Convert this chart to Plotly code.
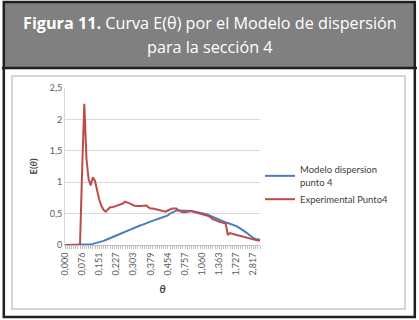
import plotly.graph_objects as go

# ---------------- data ----------------
theta = [
    "0,000", "0,009", "0,019", "0,028", "0,038", "0,047", "0,057", "0,066",
    "0,076", "0,085", "0,095", "0,104", "0,114", "0,123", "0,132", "0,142",
    "0,151", "0,161", "0,170", "0,180", "0,189", "0,199", "0,208", "0,218",
    "0,227", "0,237", "0,246", "0,255", "0,265", "0,274", "0,284", "0,293",
    "0,303", "0,312", "0,322", "0,331", "0,341", "0,350", "0,360", "0,369",
    "0,379", "0,388", "0,397", "0,407", "0,416", "0,426", "0,435", "0,445",
    "0,454", "0,492", "0,530", "0,568", "0,606", "0,643", "0,681", "0,719",
    "0,757", "0,795", "0,833", "0,871", "0,908", "0,946", "0,984", "1,022",
    "1,060", "1,098", "1,136", "1,174", "1,211", "1,249", "1,287", "1,325",
    "1,363", "1,408", "1,454", "1,499", "1,545", "1,590", "1,636", "1,681",
    "1,727", "1,863", "2,000", "2,136", "2,272", "2,408", "2,545", "2,681",
    "2,817", "2,953", "3,090", "3,226",
]

modelo = [
    0, 0, 0, 0, 0, 0, 0, 0,
    0, 0, 0.005, 0.008, 0.012, 0.018, 0.025, 0.033,
    0.042, 0.055, 0.065, 0.08, 0.093, 0.107, 0.12, 0.135,
    0.15, 0.163, 0.18, 0.195, 0.21, 0.225, 0.24, 0.26,
    0.275, 0.285, 0.30, 0.31, 0.32, 0.335, 0.35, 0.36,
    0.375, 0.385, 0.40, 0.41, 0.42, 0.43, 0.44, 0.45,
    0.47, 0.50, 0.52, 0.54, 0.55, 0.55, 0.55, 0.55,
    0.55, 0.55, 0.545, 0.54, 0.535, 0.53, 0.52, 0.51,
    0.505, 0.50, 0.49, 0.475, 0.465, 0.445, 0.43, 0.415,
    0.40, 0.38, 0.37, 0.36, 0.35, 0.34, 0.33, 0.31,
    0.30, 0.28, 0.26, 0.24, 0.22, 0.19, 0.16, 0.13,
    0.11, 0.095, 0.09, 0.085,
]

experimental = [
    0, 0, 0, 0, 0, 0, 0, 0,
    1.2, 2.25, 1.38, 1.05, 0.95, 1.08, 1.02, 0.85,
    0.72, 0.62, 0.56, 0.53, 0.57, 0.60, 0.60, 0.61,
    0.62, 0.64, 0.65, 0.66, 0.69, 0.68, 0.67, 0.65,
    0.63, 0.62, 0.62, 0.62, 0.62, 0.62, 0.63, 0.60,
    0.58, 0.58, 0.57, 0.56, 0.55, 0.54, 0.53, 0.53,
    0.55, 0.57, 0.58, 0.58, 0.58, 0.55, 0.53, 0.52,
    0.52, 0.53, 0.54, 0.54, 0.53, 0.52, 0.52, 0.51,
    0.50, 0.49, 0.47, 0.46, 0.44, 0.41, 0.40, 0.38,
    0.37, 0.36, 0.35, 0.34, 0.16, 0.19, 0.18, 0.17,
    0.16, 0.15, 0.14, 0.13, 0.13, 0.11, 0.10, 0.09,
    0.08, 0.07, 0.07, 0.07,
]

x_tick_labels = ["0,000", "0,076", "0,151", "0,227", "0,303", "0,379",
                 "0,454", "0,757", "1,060", "1,363", "1,727", "2,817"]
y_tick_vals = [0, 0.5, 1, 1.5, 2, 2.5]
y_tick_text = ["0", "0,5", "1", "1,5", "2", "2,5"]

series_names = ["Modelo dispersion<br>punto 4", "Experimental Punto4"]
series_colors = ["#4a7ebb", "#be4b48"]

# ---------------- layout geometry ----------------
W, H = 419, 320
ML, MR, MT, MB = 65, 159, 88, 75
PW, PH = W - ML - MR, H - MT - MB


def px(x):
    return (x - ML) / PW


def py(y):
    return (H - MB - y) / PH


fig = go.Figure()
for name, vals, col in zip(series_names, [modelo, experimental], series_colors):
    fig.add_trace(go.Scatter(x=theta, y=vals, mode="lines", name=name,
                             line=dict(color=col, width=2)))

tick_text = [t if t in x_tick_labels and i % 8 == 0 else "" for i, t in enumerate(theta)]

fig.update_layout(
    width=W, height=H,
    margin=dict(l=ML, r=MR, t=MT, b=MB),
    paper_bgcolor="white", plot_bgcolor="white",
    font=dict(family="Lato, sans-serif", color="#595959", size=9),
    showlegend=True,
    legend=dict(x=px(260), y=py(157), xanchor="left", yanchor="top",
                font=dict(size=9.5, color="#404040"),
                bgcolor="rgba(0,0,0,0)", tracegroupgap=3),
    xaxis=dict(type="category", categoryorder="array", categoryarray=theta,
               range=[0, len(theta) - 1],
               tickmode="array", tickvals=theta, ticktext=tick_text,
               tickangle=-90, ticks="outside", ticklen=3, tickcolor="#bfbfbf",
               showline=True, linecolor="#bfbfbf", linewidth=1,
               showgrid=False, zeroline=False,
               tickfont=dict(size=9, color="#595959"),
               title=dict(text="<b><i>θ</i></b>", font=dict(size=11, color="#404040"),
                          standoff=10)),
    yaxis=dict(range=[0, 2.5], tickmode="array", tickvals=y_tick_vals,
               ticktext=y_tick_text, ticks="", showgrid=True,
               gridcolor="#d9d9d9", gridwidth=1,
               showline=True, linecolor="#d9d9d9", linewidth=1, zeroline=False,
               tickfont=dict(size=9, color="#595959"),
               title=dict(text="<b>E(<i>θ</i>)</b>", font=dict(size=9.5, color="#404040"),
                          standoff=10)),
)

shapes = [
    # grey title band
    dict(type="rect", xref="paper", yref="paper", x0=px(4.5), x1=px(414.5),
         y0=py(67), y1=py(2.5), fillcolor="#808080", line=dict(width=0), layer="below"),
    # inner chart frame
    dict(type="rect", xref="paper", yref="paper", x0=px(12), x1=px(405),
         y0=py(309), y1=py(76), line=dict(color="#c8c8c8", width=1.5), layer="below"),
    # title bottom rule
    dict(type="line", xref="paper", yref="paper", x0=px(2), x1=px(417),
         y0=py(68), y1=py(68), line=dict(color="#231f20", width=2.5)),
    # outer border
    dict(type="rect", xref="paper", yref="paper", x0=px(3.8), x1=px(414.8),
         y0=py(317), y1=py(2), line=dict(color="#231f20", width=2.5)),
]
fig.update_layout(shapes=shapes)

fig.add_annotation(xref="paper", yref="paper", x=px(209.5), y=py(23),
                   xanchor="center", yanchor="middle", showarrow=False,
                   text="<b>Figura 11.</b> Curva E(θ) por el Modelo de dispersión",
                   font=dict(family="Open Sans, sans-serif", size=16.2, color="white"))
fig.add_annotation(xref="paper", yref="paper", x=px(209.5), y=py(47),
                   xanchor="center", yanchor="middle", showarrow=False,
                   text="para la sección 4",
                   font=dict(family="Open Sans, sans-serif", size=16.2, color="white"))

fig.write_html("out.html", config={"displayModeBar": False},
               post_script="document.body.style.margin='0';document.body.style.padding='0';")
